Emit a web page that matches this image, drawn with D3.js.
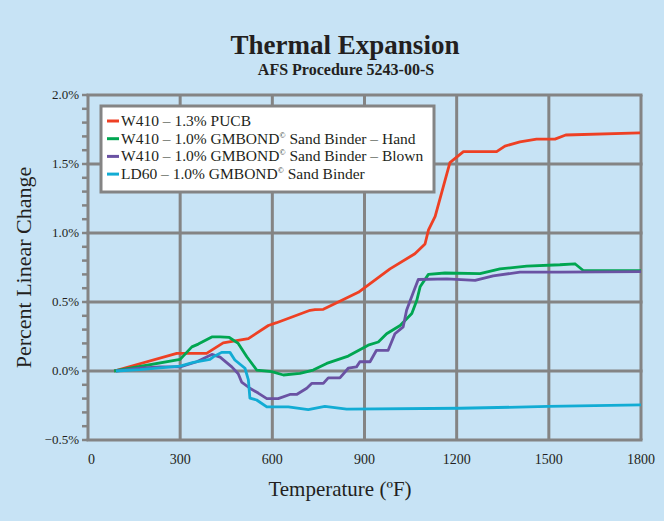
<!DOCTYPE html>
<html>
<head>
<meta charset="utf-8">
<script src="https://cdn.jsdelivr.net/npm/d3@7"></script>
<style>
  body { margin: 0; background: #c7e3f5; }
  svg { display: block; }
  text { font-family: "Liberation Serif", "DejaVu Serif", serif; fill: #231f20; }
</style>
</head>
<body>
<div id="chart"></div>
<script>
// series data: temperature (F) and percent linear change
const pucbTemp = [85, 289, 386, 440, 522, 587, 614, 723, 739, 766, 880, 983, 1064, 1097, 1108, 1130, 1157, 1178, 1222, 1330, 1357, 1406, 1460, 1520, 1555, 1797];
const pucbVal  = [0, 0.128, 0.128, 0.204, 0.235, 0.33, 0.35, 0.44, 0.445, 0.447, 0.57, 0.74, 0.85, 0.92, 1.02, 1.12, 1.34, 1.51, 1.59, 1.59, 1.63, 1.66, 1.68, 1.68, 1.71, 1.725];

const handTemp = [85, 300, 338, 359, 403, 430, 460, 489, 517, 549, 598, 636, 690, 733, 777, 847, 912, 945, 972, 1016, 1054, 1070, 1081, 1108, 1162, 1276, 1341, 1428, 1536, 1585, 1612, 1800];
const handVal  = [0, 0.084, 0.175, 0.195, 0.247, 0.247, 0.243, 0.2, 0.103, 0.007, -0.005, -0.029, -0.017, 0.007, 0.055, 0.108, 0.187, 0.21, 0.27, 0.33, 0.416, 0.51, 0.61, 0.70, 0.71, 0.705, 0.74, 0.76, 0.77, 0.777, 0.728, 0.728];

const blownTemp = [91, 169, 234, 300, 354, 403, 430, 468, 489, 500, 527, 554, 582, 619, 657, 679, 712, 728, 766, 782, 820, 847, 874, 885, 918, 939, 977, 999, 1026, 1037, 1059, 1075, 1168, 1260, 1319, 1406, 1536, 1800];
const blownVal  = [0, 0.02, 0.03, 0.03, 0.067, 0.12, 0.1, 0.03, -0.02, -0.08, -0.125, -0.16, -0.2, -0.2, -0.17, -0.17, -0.125, -0.09, -0.09, -0.05, -0.05, 0.02, 0.03, 0.067, 0.067, 0.15, 0.15, 0.27, 0.32, 0.44, 0.57, 0.663, 0.668, 0.656, 0.69, 0.716, 0.716, 0.72];

const ld60Temp = [91, 169, 300, 343, 397, 408, 435, 462, 478, 511, 522, 527, 549, 582, 652, 717, 771, 842, 1211, 1498, 1800];
const ld60Val  = [0, 0.01, 0.036, 0.063, 0.084, 0.103, 0.135, 0.135, 0.08, 0.02, -0.065, -0.197, -0.21, -0.26, -0.26, -0.28, -0.257, -0.276, -0.27, -0.257, -0.245];

const seriesNames = ['W410 – 1.3% PUCB', 'W410 – 1.0% GMBOND', 'W410 – 1.0% GMBOND', 'LD60 – 1.0% GMBOND'];
const seriesTails = ['', ' Sand Binder – Hand', ' Sand Binder – Blown', ' Sand Binder'];
const seriesColors = ['#ee4024', '#00a651', '#6a52a3', '#12acd4'];

const xTicks = [0, 300, 600, 900, 1200, 1500, 1800];
const yTicks = [-0.5, 0, 0.5, 1.0, 1.5, 2.0];

const series = [
  pucbTemp.map((t, i) => ({ t, v: pucbVal[i] })),
  handTemp.map((t, i) => ({ t, v: handVal[i] })),
  blownTemp.map((t, i) => ({ t, v: blownVal[i] })),
  ld60Temp.map((t, i) => ({ t, v: ld60Val[i] }))
];

const W = 664, H = 521;
const margin = { top: 95, right: 23, bottom: 81, left: 88 };
const width = W - margin.left - margin.right,
      height = H - margin.top - margin.bottom;

const svg = d3.select('#chart').append('svg')
  .attr('width', W).attr('height', H);

svg.append('rect').attr('width', W).attr('height', H).attr('fill', '#c7e3f5');

// titles
svg.append('text').attr('x', 345).attr('y', 54).attr('text-anchor', 'middle')
  .style('font-size', '27px').style('font-weight', 'bold').text('Thermal Expansion');
svg.append('text').attr('x', 346).attr('y', 75).attr('text-anchor', 'middle')
  .style('font-size', '16px').style('font-weight', 'bold').text('AFS Procedure 5243-00-S');

const g = svg.append('g').attr('transform', `translate(${margin.left},${margin.top})`);

const x = d3.scaleLinear().domain([0, 1800]).range([0, width]);
const y = d3.scaleLinear().domain([-0.5, 2.0]).range([height, 0]);

// minor ticks on the y axis
g.append('g')
  .selectAll('line')
  .data(d3.range(-5, 21).map(d => d / 10))
  .enter().append('line')
  .attr('x1', -6).attr('x2', 0)
  .attr('y1', d => y(d)).attr('y2', d => y(d))
  .attr('stroke', '#848484').attr('stroke-width', 2.5);

// grid
g.append('g').selectAll('line')
  .data(xTicks).enter().append('line')
  .attr('x1', d => x(d)).attr('x2', d => x(d))
  .attr('y1', 0).attr('y2', height)
  .attr('stroke', '#848484').attr('stroke-width', 3);

g.append('g').selectAll('line')
  .data(yTicks).enter().append('line')
  .attr('x1', -1.5).attr('x2', width + 1.5)
  .attr('y1', d => y(d)).attr('y2', d => y(d))
  .attr('stroke', '#848484').attr('stroke-width', 3);

// tick labels
g.append('g').selectAll('text')
  .data(xTicks).enter().append('text')
  .attr('x', d => x(d)).attr('y', height + 24)
  .attr('text-anchor', d => d === 0 ? 'start' : 'middle')
  .style('font-size', '14px')
  .text(d => d);

g.append('g').selectAll('text')
  .data(yTicks).enter().append('text')
  .attr('x', -9).attr('y', d => y(d) + 4)
  .attr('text-anchor', 'end')
  .style('font-size', '13px')
  .text(d => d3.format('.1f')(d) + '%');

// axis titles
svg.append('text').attr('x', 340).attr('y', 496).attr('text-anchor', 'middle')
  .style('font-size', '21px').text('Temperature (ºF)');
svg.append('text')
  .attr('transform', `translate(31,${margin.top + height / 2}) rotate(-90)`)
  .attr('text-anchor', 'middle')
  .style('font-size', '22px').text('Percent Linear Change');

// lines
const line = d3.line().x(d => x(d.t)).y(d => y(d.v));
g.selectAll('.series')
  .data(series).enter().append('path')
  .attr('class', 'series')
  .attr('d', line)
  .attr('fill', 'none')
  .attr('stroke', (d, i) => seriesColors[i])
  .attr('stroke-width', 2.8)
  .attr('stroke-linejoin', 'round');

// legend
const legend = svg.append('g');
legend.append('rect')
  .attr('x', 101).attr('y', 106).attr('width', 333).attr('height', 86)
  .attr('fill', '#fff').attr('stroke', '#848484').attr('stroke-width', 3);

seriesNames.forEach((name, i) => {
  const ly = 126 + i * 17.7;
  legend.append('line')
    .attr('x1', 107).attr('x2', 119).attr('y1', ly - 5).attr('y2', ly - 5)
    .attr('stroke', seriesColors[i]).attr('stroke-width', 3);
  const t = legend.append('text').attr('x', 121).attr('y', ly).style('font-size', '15.5px');
  t.append('tspan').text(name);
  if (i > 0) {
    t.append('tspan').attr('dy', -6).style('font-size', '8px').text('©');
    t.append('tspan').attr('dy', 6).text(seriesTails[i]);
  }
});
</script>
</body>
</html>
